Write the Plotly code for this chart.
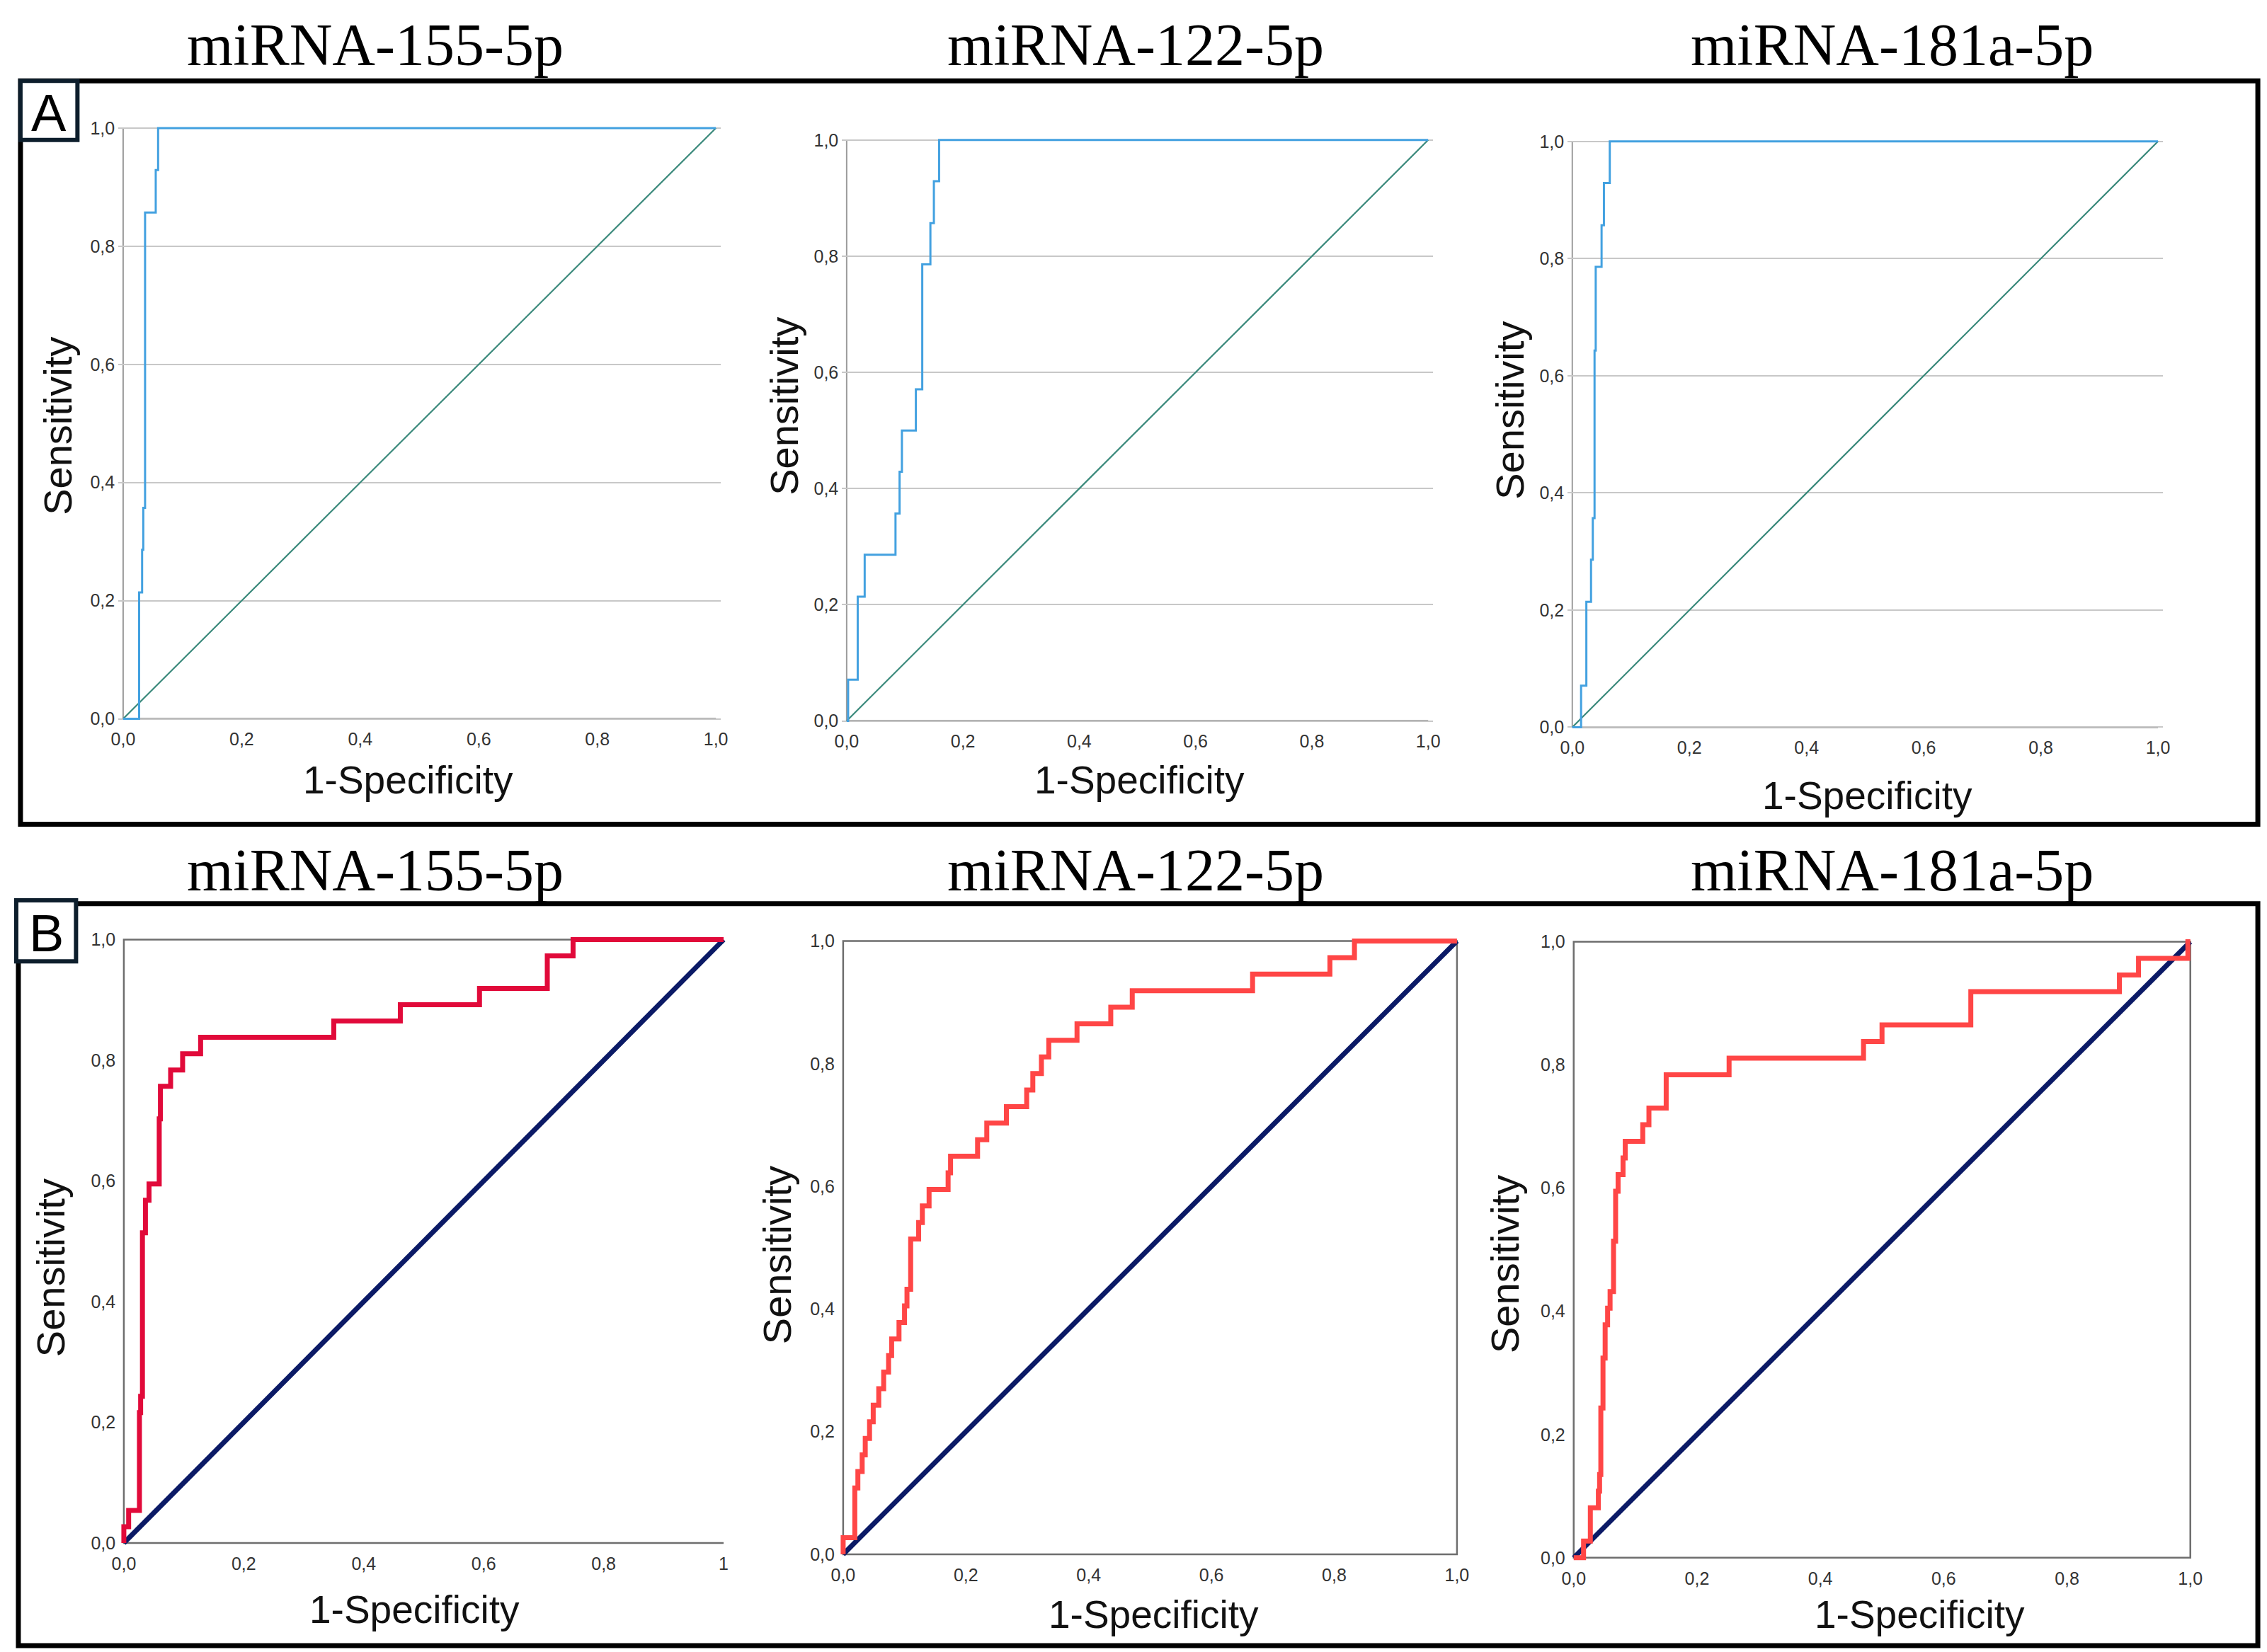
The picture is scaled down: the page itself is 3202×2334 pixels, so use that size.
import plotly.graph_objects as go

W, H = 3202, 2334

# ---- data ----
panel_titles = ["miRNA-155-5p", "miRNA-122-5p", "miRNA-181a-5p"]
tick_vals = [0, 0.2, 0.4, 0.6, 0.8, 1.0]
tick_text = ["0,0", "0,2", "0,4", "0,6", "0,8", "1,0"]
tick_text_b1 = ["0,0", "0,2", "0,4", "0,6", "0,8", "1"]
diag = [0, 1]

# panel A (step corners, vertical-then-horizontal)
a155_fpr = [0, 0.027, 0.032, 0.034, 0.037, 0.055, 0.059, 1.0]
a155_sens = [0, 0, 0.214, 0.286, 0.357, 0.857, 0.929, 1.0]

a122_fpr = [0, 0.0025, 0.019, 0.031, 0.084, 0.091, 0.095, 0.119, 0.130, 0.144, 0.150, 0.159, 1.0]
a122_sens = [0, 0, 0.071, 0.214, 0.286, 0.357, 0.429, 0.500, 0.571, 0.786, 0.857, 0.929, 1.0]

a181_fpr = [0, 0.015, 0.024, 0.032, 0.035, 0.038, 0.040, 0.050, 0.054, 0.064, 1.0]
a181_sens = [0, 0, 0.071, 0.214, 0.286, 0.357, 0.643, 0.786, 0.857, 0.929, 1.0]

# panel B
b155_fpr = [0, 0.008, 0.026, 0.028, 0.031, 0.036, 0.042, 0.059, 0.061, 0.078, 0.098, 0.128,
            0.350, 0.461, 0.593, 0.706, 0.749, 1.0]
b155_sens = [0, 0.027, 0.054, 0.216, 0.243, 0.514, 0.568, 0.595, 0.703, 0.757, 0.784, 0.811,
             0.838, 0.865, 0.892, 0.919, 0.973, 1.0]

b122_fpr = [0, 0.019, 0.024, 0.031, 0.036, 0.043, 0.049, 0.058, 0.066, 0.074, 0.079, 0.091,
            0.100, 0.104, 0.110, 0.123, 0.129, 0.140, 0.171, 0.175, 0.219, 0.234, 0.266,
            0.299, 0.309, 0.323, 0.335, 0.381, 0.436, 0.471, 0.667, 0.793, 0.833, 1.0]
b122_sens = [0, 0.027, 0.108, 0.135, 0.162, 0.189, 0.216, 0.243, 0.270, 0.297, 0.324, 0.351,
             0.378, 0.405, 0.432, 0.514, 0.541, 0.568, 0.595, 0.622, 0.649, 0.676, 0.703,
             0.730, 0.757, 0.784, 0.811, 0.838, 0.865, 0.892, 0.919, 0.946, 0.973, 1.0]

b181_fpr = [0, 0.016, 0.027, 0.040, 0.042, 0.044, 0.0475, 0.051, 0.055, 0.059, 0.0646, 0.068,
            0.072, 0.080, 0.0836, 0.112, 0.122, 0.150, 0.252, 0.470, 0.500, 0.644, 0.885,
            0.916, 0.996, 1.0]
b181_sens = [0, 0, 0.027, 0.081, 0.108, 0.135, 0.243, 0.324, 0.378, 0.405, 0.432, 0.514,
             0.595, 0.622, 0.649, 0.676, 0.703, 0.730, 0.784, 0.811, 0.838, 0.865, 0.919,
             0.946, 0.973, 1.0]

# ---- layout of the six panels (pixels: left, right, top, bottom of the unit square) ----
panels = [
    dict(fpr=a155_fpr, sens=a155_sens, box=(156, 999, 166, 1006), kind="A",
         roc="#43a1e0", dg="#3a897b", ticks=tick_text,
         ylab=(63, 590), xlab=(561, 1093), title=(515, 0)),
    dict(fpr=a122_fpr, sens=a122_sens, box=(1185, 2012, 183, 1009), kind="A",
         roc="#43a1e0", dg="#3a897b", ticks=tick_text,
         ylab=(1096, 561), xlab=(1601, 1093), title=(1596, 0)),
    dict(fpr=a181_fpr, sens=a181_sens, box=(2217, 3050, 185, 1018), kind="A",
         roc="#43a1e0", dg="#3a897b", ticks=tick_text,
         ylab=(2128, 567), xlab=(2637, 1115), title=(2672, 0)),
    dict(fpr=b155_fpr, sens=b155_sens, box=(157, 1010, 1320, 2178), kind="B1",
         roc="#e10a3a", dg="#0b1a66", ticks=tick_text_b1,
         ylab=(53, 1787), xlab=(570, 2273), title=(515, 1174)),
    dict(fpr=b122_fpr, sens=b122_sens, box=(1180, 2053, 1322, 2194), kind="B",
         roc="#ff4646", dg="#0b1a66", ticks=tick_text,
         ylab=(1086, 1769), xlab=(1622, 2280), title=(1596, 1174)),
    dict(fpr=b181_fpr, sens=b181_sens, box=(2219, 3096, 1323, 2199), kind="B",
         roc="#ff4646", dg="#0b1a66", ticks=tick_text,
         ylab=(2121, 1781), xlab=(2711, 2280), title=(2672, 1174)),
]

PAD = 0.008
SANS = "Liberation Sans, Arial, sans-serif"
SERIF = "Liberation Serif, Times New Roman, serif"


def px(x):
    return x / W


def py(y):
    return 1 - y / H


fig = go.Figure()
layout = dict(width=W, height=H, margin=dict(l=0, r=0, t=0, b=0),
              paper_bgcolor="white", plot_bgcolor="white", showlegend=False)
shapes = []
annotations = []

for i, p in enumerate(panels, start=1):
    xa = "x" if i == 1 else f"x{i}"
    ya = "y" if i == 1 else f"y{i}"
    left, right, top, bottom = p["box"]
    w = right - left
    h = bottom - top
    dom_x = [px(left - PAD * w), px(right + PAD * w)]
    dom_y = [py(bottom + PAD * h), py(top - PAD * h)]
    is_a = p["kind"] == "A"

    # chance diagonal and ROC curve
    fig.add_trace(go.Scatter(x=diag, y=diag, mode="lines", xaxis=xa, yaxis=ya,
                             line=dict(color=p["dg"], width=2.2 if is_a else 7),
                             hoverinfo="skip"))
    fig.add_trace(go.Scatter(x=p["fpr"], y=p["sens"], mode="lines", xaxis=xa, yaxis=ya,
                             line=dict(color=p["roc"], width=3 if is_a else 7, shape="vh"),
                             hovertemplate="1-Spec %{x}<br>Sens %{y}<extra></extra>"))

    tickfont = dict(family=SANS, size=25, color="#333333")
    layout["xaxis" if i == 1 else f"xaxis{i}"] = dict(
        domain=dom_x, range=[-PAD, 1 + PAD], anchor=ya, tickvals=tick_vals,
        ticktext=p["ticks"], tickfont=tickfont, showgrid=False, zeroline=False,
        showline=False, ticks="", ticklabelstandoff=5, fixedrange=True)
    layout["yaxis" if i == 1 else f"yaxis{i}"] = dict(
        domain=dom_y, range=[-PAD, 1 + PAD], anchor=xa, tickvals=tick_vals,
        ticktext=tick_text, tickfont=tickfont, showgrid=is_a, gridcolor="#c8c8c8",
        gridwidth=1.5, zeroline=False, showline=False, ticks="",
        ticklabelstandoff=4, fixedrange=True)

    # axis lines / frames in data coordinates
    if is_a:
        shapes.append(dict(type="line", xref=xa, yref=ya, x0=0, x1=0, y0=0, y1=1,
                           line=dict(color="#9c9c9c", width=2), layer="below"))
        shapes.append(dict(type="line", xref=xa, yref=ya, x0=0, x1=1, y0=0, y1=0,
                           line=dict(color="#4a4a4a", width=2), layer="below"))
    elif p["kind"] == "B1":
        shapes.append(dict(type="path", xref=xa, yref=ya, path="M 1,0 L 0,0 L 0,1 L 1,1",
                           line=dict(color="#6e6e6e", width=2.5), layer="below"))
    else:
        shapes.append(dict(type="rect", xref=xa, yref=ya, x0=0, x1=1, y0=0, y1=1,
                           line=dict(color="#6e6e6e", width=2.5), layer="below"))

    # axis titles and panel title
    annotations.append(dict(text="Sensitivity", xref="paper", yref="paper",
                            x=px(p["ylab"][0]), y=py(p["ylab"][1]), textangle=-90,
                            showarrow=False, xanchor="center", yanchor="middle",
                            font=dict(family=SANS, size=56, color="#111111")))
    annotations.append(dict(text="1-Specificity", xref="paper", yref="paper",
                            x=px(p["xlab"][0]), y=py(p["xlab"][1]),
                            showarrow=False, xanchor="center", yanchor="middle",
                            font=dict(family=SANS, size=55, color="#111111")))
    annotations.append(dict(text=panel_titles[(i - 1) % 3], xref="paper", yref="paper",
                            x=px(p["title"][0]), y=py(p["title"][1]),
                            showarrow=False, xanchor="center", yanchor="top",
                            borderpad=0,
                            font=dict(family=SERIF, size=84, color="black")))

# outer frames of the two rows
for (x0, x1, y0, y1) in [(10, 3192, 99, 1156), (7, 3192, 1269, 2324)]:
    shapes.append(dict(type="rect", xref="paper", yref="paper",
                       x0=px(x0), x1=px(x1), y0=py(y1), y1=py(y0),
                       line=dict(color="black", width=7), layer="above"))

# letter boxes A / B
for letter, (x0, x1, y0, y1) in [("A", (10, 91, 99, 183)), ("B", (4, 89, 1264, 1351))]:
    shapes.append(dict(type="rect", xref="paper", yref="paper",
                       x0=px(x0), x1=px(x1), y0=py(y1), y1=py(y0),
                       line=dict(color="#0d1e2c", width=6), fillcolor="white",
                       layer="above"))
    annotations.append(dict(text=letter, xref="paper", yref="paper",
                            x=px((x0 + x1) / 2), y=py((y0 + y1) / 2 + 3),
                            showarrow=False, xanchor="center", yanchor="middle",
                            font=dict(family=SANS, size=74, color="black")))

layout["shapes"] = shapes
layout["annotations"] = annotations
fig.update_layout(**layout)

fig.write_html("out.html")
